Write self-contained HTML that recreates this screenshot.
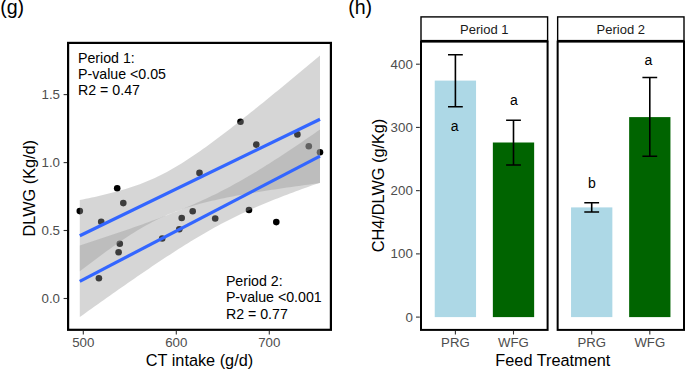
<!DOCTYPE html><html><head><meta charset="utf-8"><style>html,body{margin:0;padding:0;background:#fff;overflow:hidden;font-family:"Liberation Sans",sans-serif;}svg{display:block}</style></head><body>
<svg width="685" height="369" viewBox="0 0 685 369">
<rect width="685" height="369" fill="#fff"/>
<text x="0.2" y="13.5" font-family="&apos;Liberation Sans&apos;, sans-serif" font-size="19.6" fill="#000">(g)</text>
<circle cx="79.8" cy="211.1" r="3.3" fill="#000"/>
<circle cx="117.2" cy="188.3" r="3.3" fill="#000"/>
<circle cx="123.3" cy="203.1" r="3.3" fill="#000"/>
<circle cx="101.2" cy="221.8" r="3.3" fill="#000"/>
<circle cx="119.8" cy="243.7" r="3.3" fill="#000"/>
<circle cx="118.6" cy="252.2" r="3.3" fill="#000"/>
<circle cx="98.9" cy="278.3" r="3.3" fill="#000"/>
<circle cx="199.5" cy="172.9" r="3.3" fill="#000"/>
<circle cx="192.7" cy="211.2" r="3.3" fill="#000"/>
<circle cx="181.7" cy="218.0" r="3.3" fill="#000"/>
<circle cx="215.2" cy="218.5" r="3.3" fill="#000"/>
<circle cx="179.3" cy="229.3" r="3.3" fill="#000"/>
<circle cx="162.2" cy="238.5" r="3.3" fill="#000"/>
<circle cx="240.5" cy="121.7" r="3.3" fill="#000"/>
<circle cx="256.3" cy="144.6" r="3.3" fill="#000"/>
<circle cx="297.4" cy="134.4" r="3.3" fill="#000"/>
<circle cx="308.8" cy="146.2" r="3.3" fill="#000"/>
<circle cx="320.0" cy="152.3" r="3.3" fill="#000"/>
<circle cx="249.0" cy="210.0" r="3.3" fill="#000"/>
<circle cx="276.3" cy="222.1" r="3.3" fill="#000"/>
<path d="M79.80,200.04 L82.80,199.44 L85.80,198.82 L88.81,198.20 L91.81,197.55 L94.81,196.90 L97.81,196.23 L100.82,195.54 L103.82,194.84 L106.82,194.11 L109.82,193.36 L112.83,192.59 L115.83,191.79 L118.83,190.96 L121.83,190.10 L124.84,189.21 L127.84,188.29 L130.84,187.32 L133.84,186.31 L136.85,185.26 L139.85,184.17 L142.85,183.02 L145.85,181.83 L148.86,180.58 L151.86,179.28 L154.86,177.92 L157.87,176.50 L160.87,175.02 L163.87,173.49 L166.87,171.90 L169.88,170.25 L172.88,168.54 L175.88,166.79 L178.88,164.98 L181.88,163.13 L184.89,161.24 L187.89,159.30 L190.89,157.33 L193.89,155.31 L196.90,153.26 L199.90,151.17 L202.90,149.06 L205.91,146.91 L208.91,144.73 L211.91,142.53 L214.91,140.31 L217.92,138.07 L220.92,135.80 L223.92,133.52 L226.92,131.22 L229.93,128.90 L232.93,126.57 L235.93,124.22 L238.93,121.87 L241.94,119.50 L244.94,117.12 L247.94,114.73 L250.94,112.33 L253.94,109.92 L256.95,107.50 L259.95,105.08 L262.95,102.65 L265.95,100.21 L268.96,97.77 L271.96,95.32 L274.96,92.86 L277.96,90.40 L280.97,87.93 L283.97,85.46 L286.97,82.99 L289.97,80.51 L292.98,78.03 L295.98,75.54 L298.98,73.05 L301.99,70.56 L304.99,68.07 L307.99,65.57 L310.99,63.07 L314.00,60.56 L317.00,58.06 L320.00,55.55 L320.00,183.05 L317.00,183.45 L314.00,183.86 L310.99,184.26 L307.99,184.67 L304.99,185.08 L301.99,185.50 L298.98,185.92 L295.98,186.34 L292.98,186.76 L289.97,187.19 L286.97,187.62 L283.97,188.06 L280.97,188.50 L277.96,188.94 L274.96,189.39 L271.96,189.84 L268.96,190.30 L265.95,190.77 L262.95,191.24 L259.95,191.72 L256.95,192.21 L253.94,192.70 L250.94,193.20 L247.94,193.71 L244.94,194.23 L241.94,194.76 L238.93,195.30 L235.93,195.86 L232.93,196.42 L229.93,197.00 L226.92,197.59 L223.92,198.20 L220.92,198.83 L217.92,199.47 L214.91,200.14 L211.91,200.83 L208.91,201.54 L205.91,202.27 L202.90,203.03 L199.90,203.83 L196.90,204.65 L193.89,205.51 L190.89,206.40 L187.89,207.34 L184.89,208.31 L181.88,209.33 L178.88,210.39 L175.88,211.49 L172.88,212.65 L169.88,213.85 L166.87,215.11 L163.87,216.43 L160.87,217.81 L157.87,219.24 L154.86,220.73 L151.86,222.28 L148.86,223.89 L145.85,225.55 L142.85,227.27 L139.85,229.03 L136.85,230.85 L133.84,232.71 L130.84,234.61 L127.84,236.55 L124.84,238.54 L121.83,240.56 L118.83,242.61 L115.83,244.69 L112.83,246.80 L109.82,248.94 L106.82,251.10 L103.82,253.28 L100.82,255.49 L97.81,257.71 L94.81,259.95 L91.81,262.21 L88.81,264.47 L85.80,266.76 L82.80,269.05 L79.80,271.36 Z" fill="#999999" fill-opacity="0.4"/>
<path d="M79.80,245.54 L82.80,244.56 L85.80,243.58 L88.81,242.59 L91.81,241.60 L94.81,240.61 L97.81,239.62 L100.82,238.62 L103.82,237.62 L106.82,236.61 L109.82,235.60 L112.83,234.59 L115.83,233.57 L118.83,232.54 L121.83,231.51 L124.84,230.48 L127.84,229.44 L130.84,228.40 L133.84,227.34 L136.85,226.28 L139.85,225.22 L142.85,224.14 L145.85,223.06 L148.86,221.97 L151.86,220.87 L154.86,219.76 L157.87,218.64 L160.87,217.51 L163.87,216.37 L166.87,215.22 L169.88,214.05 L172.88,212.87 L175.88,211.67 L178.88,210.46 L181.88,209.23 L184.89,207.98 L187.89,206.72 L190.89,205.44 L193.89,204.13 L196.90,202.81 L199.90,201.46 L202.90,200.09 L205.91,198.70 L208.91,197.29 L211.91,195.84 L214.91,194.38 L217.92,192.88 L220.92,191.37 L223.92,189.82 L226.92,188.25 L229.93,186.65 L232.93,185.03 L235.93,183.37 L238.93,181.70 L241.94,180.00 L244.94,178.27 L247.94,176.52 L250.94,174.75 L253.94,172.95 L256.95,171.13 L259.95,169.30 L262.95,167.44 L265.95,165.56 L268.96,163.67 L271.96,161.76 L274.96,159.83 L277.96,157.89 L280.97,155.94 L283.97,153.97 L286.97,151.99 L289.97,149.99 L292.98,147.99 L295.98,145.97 L298.98,143.95 L301.99,141.91 L304.99,139.87 L307.99,137.81 L310.99,135.75 L314.00,133.69 L317.00,131.61 L320.00,129.53 L320.00,182.67 L317.00,183.72 L314.00,184.77 L310.99,185.84 L307.99,186.91 L304.99,187.98 L301.99,189.07 L298.98,190.16 L295.98,191.27 L292.98,192.38 L289.97,193.51 L286.97,194.64 L283.97,195.79 L280.97,196.95 L277.96,198.13 L274.96,199.32 L271.96,200.52 L268.96,201.74 L265.95,202.98 L262.95,204.23 L259.95,205.50 L256.95,206.80 L253.94,208.11 L250.94,209.44 L247.94,210.80 L244.94,212.18 L241.94,213.58 L238.93,215.01 L235.93,216.47 L232.93,217.94 L229.93,219.45 L226.92,220.98 L223.92,222.54 L220.92,224.12 L217.92,225.74 L214.91,227.37 L211.91,229.04 L208.91,230.72 L205.91,232.44 L202.90,234.18 L199.90,235.94 L196.90,237.72 L193.89,239.53 L190.89,241.35 L187.89,243.20 L184.89,245.07 L181.88,246.95 L178.88,248.85 L175.88,250.77 L172.88,252.70 L169.88,254.65 L166.87,256.61 L163.87,258.59 L160.87,260.58 L157.87,262.58 L154.86,264.59 L151.86,266.61 L148.86,268.64 L145.85,270.68 L142.85,272.73 L139.85,274.78 L136.85,276.85 L133.84,278.92 L130.84,280.99 L127.84,283.08 L124.84,285.17 L121.83,287.27 L118.83,289.37 L115.83,291.47 L112.83,293.58 L109.82,295.70 L106.82,297.82 L103.82,299.94 L100.82,302.07 L97.81,304.20 L94.81,306.34 L91.81,308.48 L88.81,310.62 L85.80,312.76 L82.80,314.91 L79.80,317.06 Z" fill="#999999" fill-opacity="0.4"/>
<line x1="79.8" y1="235.7" x2="320.0" y2="119.3" stroke="#3366FF" stroke-width="3.2"/>
<line x1="79.8" y1="281.3" x2="320.0" y2="156.1" stroke="#3366FF" stroke-width="3.2"/>
<rect x="68.1" y="42.9" width="262.8" height="286.9" fill="none" stroke="#000" stroke-width="2.2"/>
<line x1="63.6" y1="298.5" x2="67" y2="298.5" stroke="#333" stroke-width="1.1"/>
<text x="60" y="303.1" font-family="&apos;Liberation Sans&apos;, sans-serif" font-size="13.3" fill="#4D4D4D" text-anchor="end">0.0</text>
<line x1="63.6" y1="230.5" x2="67" y2="230.5" stroke="#333" stroke-width="1.1"/>
<text x="60" y="235.1" font-family="&apos;Liberation Sans&apos;, sans-serif" font-size="13.3" fill="#4D4D4D" text-anchor="end">0.5</text>
<line x1="63.6" y1="162.6" x2="67" y2="162.6" stroke="#333" stroke-width="1.1"/>
<text x="60" y="167.2" font-family="&apos;Liberation Sans&apos;, sans-serif" font-size="13.3" fill="#4D4D4D" text-anchor="end">1.0</text>
<line x1="63.6" y1="94.6" x2="67" y2="94.6" stroke="#333" stroke-width="1.1"/>
<text x="60" y="99.19999999999999" font-family="&apos;Liberation Sans&apos;, sans-serif" font-size="13.3" fill="#4D4D4D" text-anchor="end">1.5</text>
<line x1="83.3" y1="331" x2="83.3" y2="334.5" stroke="#333" stroke-width="1.1"/>
<text x="83.3" y="346.5" font-family="&apos;Liberation Sans&apos;, sans-serif" font-size="13.3" fill="#4D4D4D" text-anchor="middle">500</text>
<line x1="176.3" y1="331" x2="176.3" y2="334.5" stroke="#333" stroke-width="1.1"/>
<text x="176.3" y="346.5" font-family="&apos;Liberation Sans&apos;, sans-serif" font-size="13.3" fill="#4D4D4D" text-anchor="middle">600</text>
<line x1="269.3" y1="331" x2="269.3" y2="334.5" stroke="#333" stroke-width="1.1"/>
<text x="269.3" y="346.5" font-family="&apos;Liberation Sans&apos;, sans-serif" font-size="13.3" fill="#4D4D4D" text-anchor="middle">700</text>
<text x="199.5" y="366.3" font-family="&apos;Liberation Sans&apos;, sans-serif" font-size="16.3" fill="#000" text-anchor="middle">CT intake (g/d)</text>
<text transform="translate(35.2,188.2) rotate(-90)" font-family="&apos;Liberation Sans&apos;, sans-serif" font-size="16.3" fill="#000" text-anchor="middle">DLWG (Kg/d)</text>
<text x="78" y="62.5" font-family="&apos;Liberation Sans&apos;, sans-serif" font-size="14.2" fill="#000">Period 1:</text>
<text x="78" y="79.0" font-family="&apos;Liberation Sans&apos;, sans-serif" font-size="14.2" fill="#000">P-value &lt;0.05</text>
<text x="78" y="95.4" font-family="&apos;Liberation Sans&apos;, sans-serif" font-size="14.2" fill="#000">R2 = 0.47</text>
<text x="225.9" y="285.9" font-family="&apos;Liberation Sans&apos;, sans-serif" font-size="14.2" fill="#000">Period 2:</text>
<text x="225.9" y="302.3" font-family="&apos;Liberation Sans&apos;, sans-serif" font-size="14.2" fill="#000">P-value &lt;0.001</text>
<text x="225.9" y="318.7" font-family="&apos;Liberation Sans&apos;, sans-serif" font-size="14.2" fill="#000">R2 = 0.77</text>
<text x="348.2" y="13.8" font-family="&apos;Liberation Sans&apos;, sans-serif" font-size="19.6" fill="#000">(h)</text>
<rect x="434.75" y="80.6" width="41.3" height="236.50" fill="#ADD8E6"/>
<rect x="492.85" y="142.5" width="41.3" height="174.60" fill="#006400"/>
<rect x="571.05" y="207.4" width="41.3" height="109.70" fill="#ADD8E6"/>
<rect x="629.15" y="117.1" width="41.3" height="200.00" fill="#006400"/>
<path d="M448.00,54.8 H462.80 M455.40,54.8 V106.8 M448.00,106.8 H462.80" stroke="#000" stroke-width="1.6" fill="none"/>
<text x="454.60" y="131.2" font-family="&apos;Liberation Sans&apos;, sans-serif" font-size="14" fill="#000" text-anchor="middle">a</text>
<path d="M506.10,120.3 H520.90 M513.50,120.3 V165.0 M506.10,165.0 H520.90" stroke="#000" stroke-width="1.6" fill="none"/>
<text x="514.00" y="105.1" font-family="&apos;Liberation Sans&apos;, sans-serif" font-size="14" fill="#000" text-anchor="middle">a</text>
<path d="M584.30,202.8 H599.10 M591.70,202.8 V212.0 M584.30,212.0 H599.10" stroke="#000" stroke-width="1.6" fill="none"/>
<text x="592.00" y="188.2" font-family="&apos;Liberation Sans&apos;, sans-serif" font-size="14" fill="#000" text-anchor="middle">b</text>
<path d="M642.40,77.5 H657.20 M649.80,77.5 V156.2 M642.40,156.2 H657.20" stroke="#000" stroke-width="1.6" fill="none"/>
<text x="648.50" y="65.4" font-family="&apos;Liberation Sans&apos;, sans-serif" font-size="14" fill="#000" text-anchor="middle">a</text>
<rect x="421.0" y="16.9" width="126.60" height="23.70" fill="none" stroke="#000" stroke-width="1.4"/>
<rect x="421.0" y="41.6" width="126.60" height="288.30" fill="none" stroke="#000" stroke-width="2.0"/>
<text x="484.30" y="33.5" font-family="&apos;Liberation Sans&apos;, sans-serif" font-size="13" fill="#1A1A1A" text-anchor="middle">Period 1</text>
<line x1="455.40" y1="331" x2="455.40" y2="334.5" stroke="#333" stroke-width="1.1"/>
<text x="455.40" y="347.4" font-family="&apos;Liberation Sans&apos;, sans-serif" font-size="13.2" fill="#4D4D4D" text-anchor="middle">PRG</text>
<line x1="513.50" y1="331" x2="513.50" y2="334.5" stroke="#333" stroke-width="1.1"/>
<text x="513.50" y="347.4" font-family="&apos;Liberation Sans&apos;, sans-serif" font-size="13.2" fill="#4D4D4D" text-anchor="middle">WFG</text>
<rect x="557.65" y="16.9" width="126.35" height="23.70" fill="none" stroke="#000" stroke-width="1.4"/>
<rect x="557.65" y="41.6" width="126.35" height="288.30" fill="none" stroke="#000" stroke-width="2.0"/>
<text x="620.83" y="33.5" font-family="&apos;Liberation Sans&apos;, sans-serif" font-size="13" fill="#1A1A1A" text-anchor="middle">Period 2</text>
<line x1="591.70" y1="331" x2="591.70" y2="334.5" stroke="#333" stroke-width="1.1"/>
<text x="591.70" y="347.4" font-family="&apos;Liberation Sans&apos;, sans-serif" font-size="13.2" fill="#4D4D4D" text-anchor="middle">PRG</text>
<line x1="649.80" y1="331" x2="649.80" y2="334.5" stroke="#333" stroke-width="1.1"/>
<text x="649.80" y="347.4" font-family="&apos;Liberation Sans&apos;, sans-serif" font-size="13.2" fill="#4D4D4D" text-anchor="middle">WFG</text>
<line x1="416" y1="317.10" x2="419.8" y2="317.10" stroke="#333" stroke-width="1.1"/>
<text x="412.8" y="321.70" font-family="&apos;Liberation Sans&apos;, sans-serif" font-size="13.3" fill="#4D4D4D" text-anchor="end">0</text>
<line x1="416" y1="253.88" x2="419.8" y2="253.88" stroke="#333" stroke-width="1.1"/>
<text x="412.8" y="258.48" font-family="&apos;Liberation Sans&apos;, sans-serif" font-size="13.3" fill="#4D4D4D" text-anchor="end">100</text>
<line x1="416" y1="190.65" x2="419.8" y2="190.65" stroke="#333" stroke-width="1.1"/>
<text x="412.8" y="195.25" font-family="&apos;Liberation Sans&apos;, sans-serif" font-size="13.3" fill="#4D4D4D" text-anchor="end">200</text>
<line x1="416" y1="127.42" x2="419.8" y2="127.42" stroke="#333" stroke-width="1.1"/>
<text x="412.8" y="132.02" font-family="&apos;Liberation Sans&apos;, sans-serif" font-size="13.3" fill="#4D4D4D" text-anchor="end">300</text>
<line x1="416" y1="64.20" x2="419.8" y2="64.20" stroke="#333" stroke-width="1.1"/>
<text x="412.8" y="68.80" font-family="&apos;Liberation Sans&apos;, sans-serif" font-size="13.3" fill="#4D4D4D" text-anchor="end">400</text>
<text x="552.8" y="366.0" font-family="&apos;Liberation Sans&apos;, sans-serif" font-size="16.3" fill="#000" text-anchor="middle">Feed Treatment</text>
<text transform="translate(384.3,185.5) rotate(-90)" font-family="&apos;Liberation Sans&apos;, sans-serif" font-size="16.3" fill="#000" text-anchor="middle">CH4/DLWG (g/Kg)</text>
</svg></body></html>
